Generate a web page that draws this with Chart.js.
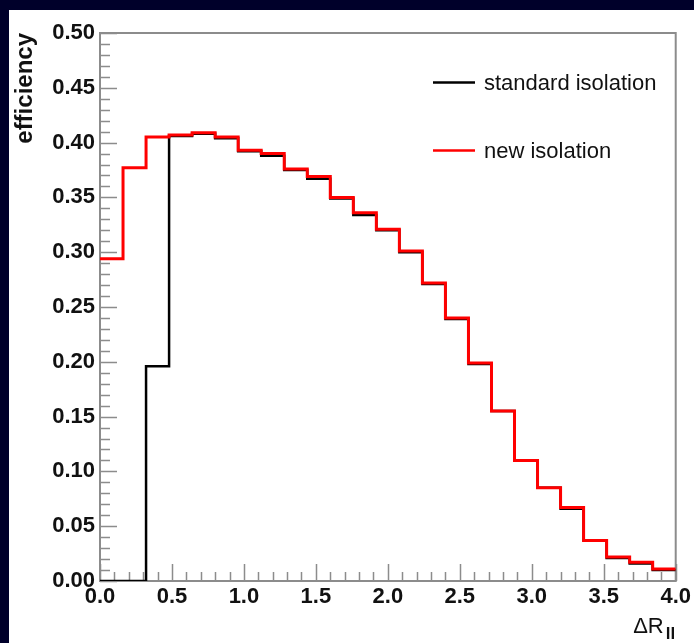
<!DOCTYPE html>
<html>
<head>
<meta charset="utf-8">
<script src="https://cdn.jsdelivr.net/npm/chart.js@4.4.1/dist/chart.umd.min.js"></script>
<style>
  html, body { margin: 0; padding: 0; background: #00002a; width: 694px; height: 643px; overflow: hidden; }
  #panel { position: absolute; left: 9px; top: 10px; width: 685px; height: 633px; background: #fff; }
</style>
</head>
<body>
<div id="panel"><canvas id="effChart" width="685" height="633"></canvas></div>
<script>
// bin edges in dR_ll (25 bins of 0.16)
const binEdges = [0.00, 0.16, 0.32, 0.48, 0.64, 0.80, 0.96, 1.12, 1.28, 1.44, 1.60, 1.76, 1.92,
                  2.08, 2.24, 2.40, 2.56, 2.72, 2.88, 3.04, 3.20, 3.36, 3.52, 3.68, 3.84, 4.00];

// efficiency per bin
const standardEff = [0.000, 0.000, 0.196, 0.406, 0.408, 0.404, 0.392, 0.388, 0.375, 0.367, 0.349, 0.334, 0.320,
                     0.300, 0.271, 0.239, 0.198, 0.155, 0.110, 0.085, 0.066, 0.037, 0.021, 0.016, 0.010];
const newEff      = [0.294, 0.377, 0.405, 0.407, 0.409, 0.405, 0.393, 0.390, 0.376, 0.369, 0.350, 0.336, 0.321,
                     0.301, 0.272, 0.240, 0.199, 0.155, 0.110, 0.085, 0.067, 0.037, 0.022, 0.017, 0.011];

const seriesLabels = ['standard isolation', 'new isolation'];

const xTicks = [0.0, 0.5, 1.0, 1.5, 2.0, 2.5, 3.0, 3.5, 4.0];
const xTickLabels = ['0.0', '0.5', '1.0', '1.5', '2.0', '2.5', '3.0', '3.5', '4.0'];
const yTicks = [0.00, 0.05, 0.10, 0.15, 0.20, 0.25, 0.30, 0.35, 0.40, 0.45, 0.50];
const yTickLabels = ['0.00', '0.05', '0.10', '0.15', '0.20', '0.25', '0.30', '0.35', '0.40', '0.45', '0.50'];

// histogram points: left edge of each bin, plus the closing right edge
function histPoints(values) {
    const pts = values.map((v, i) => ({ x: binEdges[i], y: v }));
    pts.push({ x: binEdges[values.length], y: values[values.length - 1] });
    return pts;
}

const FONT = "'Liberation Sans', Arial, Helvetica, sans-serif";
const TEXT = '#111';
const FRAME = '#8c8c8c';

// ROOT-like frame, inner tick marks, legend and x title
const rootStyle = {
    id: 'rootStyle',
    beforeDatasetsDraw(chart) {
        const { ctx, chartArea: a, scales: { x, y } } = chart;
        ctx.save();
        ctx.strokeStyle = FRAME;
        ctx.lineWidth = 1.5;
        ctx.beginPath();
        for (let i = 0; i <= 40; i++) {
            const px = Math.round(x.getPixelForValue(i / 10)) + 0.5;
            const len = i % 5 === 0 ? 17 : 9;
            ctx.moveTo(px, a.bottom);
            ctx.lineTo(px, a.bottom - len);
        }
        for (let i = 0; i <= 50; i++) {
            const py = Math.round(y.getPixelForValue(i / 100)) + 0.5;
            const len = i % 5 === 0 ? 17 : 10;
            ctx.moveTo(a.left, py);
            ctx.lineTo(a.left + len, py);
        }
        ctx.stroke();
        ctx.lineWidth = 2;
        ctx.strokeRect(a.left, a.top, a.right - a.left, a.bottom - a.top);
        ctx.restore();
    },
    afterDraw(chart) {
        const { ctx, chartArea: a } = chart;
        ctx.save();
        // legend
        const rows = [72.5, 140.5];
        chart.data.datasets.forEach((ds, i) => {
            ctx.strokeStyle = ds.borderColor;
            ctx.lineWidth = 2.5;
            ctx.beginPath();
            ctx.moveTo(424, rows[i]);
            ctx.lineTo(466, rows[i]);
            ctx.stroke();
            ctx.fillStyle = TEXT;
            ctx.font = '22px ' + FONT;
            ctx.textAlign = 'left';
            ctx.textBaseline = 'middle';
            ctx.fillText(ds.label, 475, rows[i] + 1);
        });
        // x axis title: delta R with subscript ll
        ctx.fillStyle = TEXT;
        ctx.textBaseline = 'alphabetic';
        ctx.textAlign = 'right';
        ctx.font = '22px ' + FONT;
        ctx.fillText('\u0394R', a.right - 12, 623);
        ctx.textAlign = 'left';
        ctx.font = 'bold 17px ' + FONT;
        ctx.fillText('ll', a.right - 10, 629);
        ctx.restore();
    }
};

const ctx = document.getElementById('effChart').getContext('2d');
const effChart = new Chart(ctx, {
    type: 'line',
    data: {
        datasets: [{
            label: seriesLabels[0],
            data: histPoints(standardEff),
            borderColor: '#000000',
            borderWidth: 2.5,
            stepped: 'before',
            pointRadius: 0,
            fill: false,
            order: 2
        }, {
            label: seriesLabels[1],
            data: histPoints(newEff),
            borderColor: '#ff0000',
            borderWidth: 3,
            stepped: 'before',
            pointRadius: 0,
            fill: false,
            order: 1
        }]
    },
    options: {
        responsive: false,
        animation: false,
        layout: { padding: { top: 23, right: 17, left: 0, bottom: 0 } },
        plugins: {
            legend: { display: false },
            tooltip: { enabled: false }
        },
        scales: {
            x: {
                type: 'linear',
                min: 0,
                max: 4,
                grid: { display: false, drawTicks: false },
                border: { display: false },
                afterBuildTicks: s => { s.ticks = xTicks.map(v => ({ value: v })); },
                afterFit: s => { s.height = 62; },
                ticks: {
                    autoSkip: false,
                    maxRotation: 0,
                    padding: 3,
                    color: TEXT,
                    font: { family: FONT, size: 22, weight: 'bold' },
                    callback: (v, i) => xTickLabels[i]
                }
            },
            y: {
                min: 0,
                max: 0.5,
                grid: { display: false, drawTicks: false },
                border: { display: false },
                afterBuildTicks: s => { s.ticks = yTicks.map(v => ({ value: v })); },
                afterFit: s => { s.width = 91; },
                ticks: {
                    autoSkip: false,
                    padding: 5,
                    color: TEXT,
                    font: { family: FONT, size: 22, weight: 'bold' },
                    callback: (v, i) => yTickLabels[i]
                },
                title: {
                    display: true,
                    text: 'efficiency',
                    align: 'end',
                    color: TEXT,
                    padding: { top: 2, bottom: 0 },
                    font: { family: FONT, size: 24, weight: 'bold' }
                }
            }
        }
    },
    plugins: [rootStyle]
});
</script>
</body>
</html>
